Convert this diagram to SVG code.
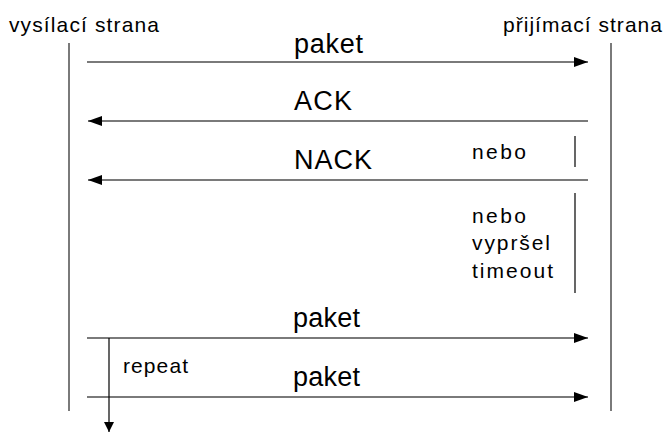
<svg xmlns="http://www.w3.org/2000/svg" width="664" height="434" viewBox="0 0 664 434">
  <style>
    text { font-family: "Liberation Sans", Arial, sans-serif; fill: #000; }
    .big { font-size: 27px; }
    .small { font-size: 21px; }
    .life { stroke: #7a7a7a; stroke-width: 2; fill: none; }
    .msg { stroke: #7a7a7a; stroke-width: 2; fill: none; }
    .bar { stroke: #000; stroke-width: 1.2; fill: none; }
  </style>
  <defs>
    <marker id="head" viewBox="0 0 14 10" refX="14" refY="5" markerWidth="14" markerHeight="10" markerUnits="userSpaceOnUse" orient="auto">
      <path d="M0,0 L14,5 L0,10 Z" fill="#000"/>
    </marker>
    <marker id="headSmall" viewBox="0 0 10 10" refX="10" refY="5" markerWidth="10" markerHeight="10" markerUnits="userSpaceOnUse" orient="auto">
      <path d="M0,0 L10,5 L0,10 Z" fill="#000"/>
    </marker>
  </defs>

  <g id="sender">
    <text class="small" x="9" y="32" textLength="150" lengthAdjust="spacing">vysílací strana</text>
    <line class="life" x1="69" y1="43" x2="69" y2="411"/>
  </g>

  <g id="receiver">
    <text class="small" x="503" y="32" textLength="159" lengthAdjust="spacing">přijímací strana</text>
    <line class="life" x1="611" y1="43" x2="611" y2="411"/>
  </g>

  <g id="connectors">
    <line class="msg" x1="87" y1="62" x2="588" y2="62" marker-end="url(#head)"/>
    <line class="msg" x1="588" y1="121" x2="88" y2="121" marker-end="url(#head)"/>
    <line class="msg" x1="588" y1="180" x2="88" y2="180" marker-end="url(#head)"/>
    <line class="msg" x1="87" y1="338" x2="588" y2="338" marker-end="url(#head)"/>
    <line class="msg" x1="87" y1="397" x2="588" y2="397" marker-end="url(#head)"/>
    <line class="bar" x1="109" y1="338" x2="109" y2="432" marker-end="url(#headSmall)"/>
    <line class="bar" x1="575" y1="136" x2="575" y2="167"/>
    <line class="bar" x1="575" y1="193" x2="575" y2="293"/>
  </g>

  <g id="labels">
    <text class="big" x="294" y="53" textLength="69" lengthAdjust="spacing">paket</text>
    <text class="big" x="294" y="110" textLength="58" lengthAdjust="spacing">ACK</text>
    <text class="big" x="294" y="169" textLength="78" lengthAdjust="spacing">NACK</text>
    <text class="small" x="472" y="159" textLength="54" lengthAdjust="spacing">nebo</text>
    <text class="small" x="472" y="223" textLength="54" lengthAdjust="spacing">nebo</text>
    <text class="small" x="472" y="250" textLength="78" lengthAdjust="spacing">vypršel</text>
    <text class="small" x="472" y="278" textLength="81" lengthAdjust="spacing">timeout</text>
    <text class="big" x="293" y="327" textLength="67" lengthAdjust="spacing">paket</text>
    <text class="small" x="123" y="373" textLength="65" lengthAdjust="spacing">repeat</text>
    <text class="big" x="293" y="386" textLength="67" lengthAdjust="spacing">paket</text>
  </g>
</svg>
